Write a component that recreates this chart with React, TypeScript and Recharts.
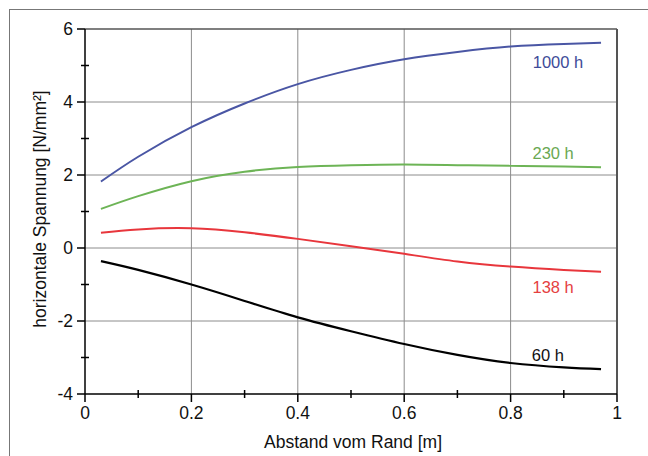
import React from 'react';
import { LineChart, Line, XAxis, YAxis, ReferenceLine, ReferenceDot } from 'recharts';

const distances = [0.03, 0.1, 0.2, 0.3, 0.4, 0.5, 0.6, 0.7, 0.8, 0.9, 0.97];
const s1000h = [1.82, 2.5, 3.31, 3.96, 4.49, 4.88, 5.17, 5.37, 5.52, 5.59, 5.62];
const s230h = [1.07, 1.42, 1.83, 2.09, 2.22, 2.27, 2.29, 2.27, 2.25, 2.23, 2.21];
const s138h = [0.42, 0.51, 0.54, 0.43, 0.25, 0.05, -0.16, -0.37, -0.51, -0.6, -0.65];
const s60h = [-0.36, -0.6, -1.0, -1.45, -1.9, -2.28, -2.63, -2.93, -3.15, -3.27, -3.32];

const xTicks = [0, 0.1, 0.2, 0.3, 0.4, 0.5, 0.6, 0.7, 0.8, 0.9, 1];
const yTicks = [-4, -3, -2, -1, 0, 1, 2, 3, 4, 5, 6];
const xGrid = [0.2, 0.4, 0.6, 0.8];
const yGrid = [-2, 0, 2, 4];

const seriesLabels = [
  { text: '1000 h', x: 0.889, y: 5.1, color: '#3d4b98' },
  { text: '230 h', x: 0.88, y: 2.6, color: '#6aa852' },
  { text: '138 h', x: 0.88, y: -1.07, color: '#e5403f' },
  { text: '60 h', x: 0.87, y: -2.93, color: '#111111' },
];

const data = distances.map((d, i) => ({
  d,
  h1000: s1000h[i],
  h230: s230h[i],
  h138: s138h[i],
  h60: s60h[i],
}));

const FONT = '"Liberation Sans", Arial, sans-serif';
const AXIS_X = 85;
const AXIS_Y = 394;

const YTick = (props: any) => {
  const { y, payload } = props;
  const v = payload.value;
  if (Math.abs(v) % 2 === 0) {
    return (
      <g>
        <line x1={AXIS_X - 8} x2={AXIS_X} y1={y} y2={y} stroke="#000" strokeWidth={1.5} />
        <text x={AXIS_X - 12} y={y} dy="0.36em" textAnchor="end" fontSize={17.5} fontFamily={FONT} fill="#111">
          {String(v)}
        </text>
      </g>
    );
  }
  return <line x1={AXIS_X - 4} x2={AXIS_X + 4} y1={y} y2={y} stroke="#000" strokeWidth={1.5} />;
};

const XTick = (props: any) => {
  const { x, payload } = props;
  const v = payload.value;
  if (Math.round(v * 10) % 2 === 0) {
    return (
      <g>
        <line x1={x} x2={x} y1={AXIS_Y} y2={AXIS_Y + 8} stroke="#000" strokeWidth={1.5} />
        <text x={x} y={AXIS_Y + 25} textAnchor="middle" fontSize={17.5} fontFamily={FONT} fill="#111">
          {String(Math.round(v * 10) / 10)}
        </text>
      </g>
    );
  }
  return <line x1={x} x2={x} y1={AXIS_Y - 4} y2={AXIS_Y + 4} stroke="#000" strokeWidth={1.5} />;
};

export default function App() {
  return (
    <div style={{ position: 'fixed', left: 0, top: 0, width: 648, height: 456, background: '#fff', overflow: 'hidden' }}>
      <div
        style={{
          position: 'absolute',
          left: 9,
          top: 9,
          width: 700,
          height: 500,
          borderLeft: '1.5px solid #777',
          borderTop: '1.5px solid #777',
        }}
      />
      <div style={{ position: 'absolute', left: 0, top: 0 }}>
        <LineChart width={648} height={456} data={data} margin={{ top: 29, right: 31, left: 0, bottom: 0 }}>
          <XAxis
            dataKey="d"
            type="number"
            domain={[0, 1]}
            ticks={xTicks}
            interval={0}
            tick={<XTick />}
            tickLine={false}
            axisLine={{ stroke: '#000', strokeWidth: 1.5 }}
            height={62}
          />
          <YAxis
            type="number"
            domain={[-4, 6]}
            ticks={yTicks}
            interval={0}
            tick={<YTick />}
            tickLine={false}
            axisLine={{ stroke: '#000', strokeWidth: 1.5 }}
            width={85}
          />
          {xGrid.map((g) => (
            <ReferenceLine key={'x' + g} x={g} stroke="#8c8c8c" strokeWidth={1} />
          ))}
          {yGrid.map((g) => (
            <ReferenceLine key={'y' + g} y={g} stroke="#8c8c8c" strokeWidth={1} />
          ))}
          <ReferenceLine y={6} stroke="#555" strokeWidth={1.5} />
          <ReferenceLine x={1} stroke="#555" strokeWidth={2} />
          <Line type="natural" dataKey="h1000" stroke="#4a56a4" strokeWidth={2} dot={false} isAnimationActive={false} />
          <Line type="natural" dataKey="h230" stroke="#6db456" strokeWidth={2} dot={false} isAnimationActive={false} />
          <Line type="natural" dataKey="h138" stroke="#e8363c" strokeWidth={2} dot={false} isAnimationActive={false} />
          <Line type="natural" dataKey="h60" stroke="#000" strokeWidth={2.2} dot={false} isAnimationActive={false} />
          {seriesLabels.map((l) => (
            <ReferenceDot
              key={l.text}
              x={l.x}
              y={l.y}
              r={0}
              stroke="none"
              fill="none"
              label={{ value: l.text, position: 'center', fill: l.color, fontSize: 16.5, fontFamily: FONT }}
            />
          ))}
        </LineChart>
      </div>
      <svg width={648} height={456} style={{ position: 'absolute', left: 0, top: 0, pointerEvents: 'none' }}>
        <text x={353} y={448} textAnchor="middle" fontSize={17.5} fontFamily={FONT} fill="#111">
          Abstand vom Rand [m]
        </text>
        <text
          x={46}
          y={209}
          transform="rotate(-90 46 209)"
          textAnchor="middle"
          fontSize={17.5}
          fontFamily={FONT}
          fill="#111"
        >
          horizontale Spannung [N/mm²]
        </text>
      </svg>
    </div>
  );
}
